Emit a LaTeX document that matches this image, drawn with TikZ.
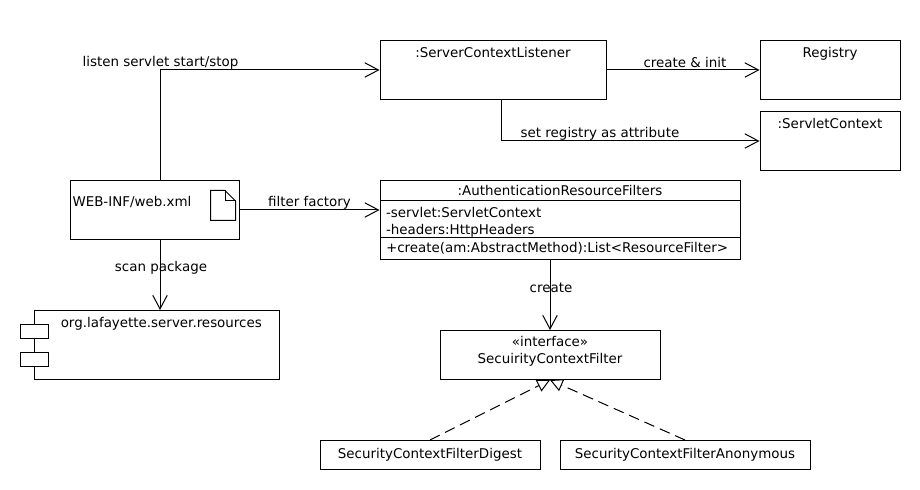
\documentclass[tikz,border=0pt]{standalone}
\usepackage{fontspec}
\setmainfont{DejaVu Sans}
\usepackage{tikz}
\usetikzlibrary{arrows.meta}

\begin{document}
\begin{tikzpicture}[
    % Plain UML box, size given per node
    boxU/.style={
        rectangle, draw=black, fill=white,
        line width=0.025cm, inner sep=0pt,
        font=\fontsize{9.55}{12}\selectfont
    },
    % Box whose text sits against the top edge
    boxT/.style={
        boxU, text height=0.42cm, text depth=#1
    },
    % Text beside a connector
    tagU/.style={
        inner sep=0pt, font=\fontsize{9.55}{12}\selectfont
    },
    % Open headed association
    flowU/.style={
        -{Straight Barb[length=0.34cm, width=0.36cm]},
        line width=0.025cm, draw=black
    },
    % Dashed realization
    realU/.style={
        -{Triangle[open, fill=white, length=0.32cm, width=0.32cm]},
        line width=0.025cm, draw=black,
        dash pattern=on 0.27cm off 0.15cm
    }
]
\useasboundingbox (0, 0.0125) rectangle (23, -12.2375);
% Top row
\node[boxT=1.055cm, minimum width=5.65cm, minimum height=1.475cm] (listener)
    at (12.325, -1.7375) {:ServerContextListener};
\node[boxT=1.055cm, minimum width=3.5cm, minimum height=1.475cm] (registry)
    at (20.75, -1.7375) {Registry};
\node[boxT=1.055cm, minimum width=3.5cm, minimum height=1.475cm] (context)
    at (20.75, -3.5125) {:ServletContext};
% Deployment descriptor with page icon
\node[boxT=0.83cm, text height=0.645cm, minimum width=4.225cm, minimum height=1.475cm,
      text width=4.1cm, align=left] (webxml)
    at (3.8625, -5.2375) {WEB-INF/web.xml};
\draw[line width=0.025cm, fill=white]
    (5.2625, -4.75) -- (5.625, -4.75) -- (5.8875, -5.0125)
    -- (5.8875, -5.5) -- (5.2625, -5.5) -- cycle;
\draw[line width=0.025cm] (5.625, -4.75) -- (5.625, -5.0125) -- (5.8875, -5.0125);
% Component with its two tabs
\node[boxT=1.305cm, minimum width=6.125cm, minimum height=1.725cm] (resources)
    at (3.9125, -8.6125) {\hspace*{0.24cm}org.lafayette.server.resources};
\node[boxU, minimum width=0.7cm, minimum height=0.35cm] (tabA)
    at (0.85, -8.275) {};
\node[boxU, minimum width=0.7cm, minimum height=0.35cm] (tabB)
    at (0.85, -8.975) {};
% Filter class, three compartments
\node[boxU, minimum width=9cm, minimum height=0.5cm] (authName)
    at (14, -4.75) {:AuthenticationResourceFilters};
\node[boxU, minimum width=9cm, minimum height=0.925cm,
      text width=8.7cm, align=left] (authFields)
    at (14, -5.4625) {\rule{0pt}{0.41cm}-servlet:ServletContext\\-headers:HttpHeaders};
\node[boxU, minimum width=9cm, minimum height=0.55cm,
      text width=8.7cm, align=left] (authOps)
    at (14, -6.2) {+create(am:AbstractMethod):List<ResourceFilter>};
% Interface and its two implementations
\node[boxU, minimum width=5.5cm, minimum height=1.225cm, align=center,
      text depth=0.26cm] (iface)
    at (13.75, -8.8625) {«interface»\\SecuirityContextFilter};
\node[boxU, minimum width=5.5cm, minimum height=0.725cm] (digest)
    at (10.75, -11.3625) {SecurityContextFilterDigest};
\node[boxU, minimum width=6.25cm, minimum height=0.725cm] (anon)
    at (17.125, -11.3625) {SecurityContextFilterAnonymous};
% Tap points off centre
\coordinate (webBus) at (4, -5.25);
\coordinate (listenerTap) at (12.525, -2.5);
% Associations
\draw[flowU] (webBus |- webxml.north) |- (listener.west);
\draw[flowU] (listener.east) -- (registry.west);
\draw[flowU] (listenerTap |- listener.south) |- (context.west);
\draw[flowU] (webxml.east) -- (webxml.east -| authFields.west);
\draw[flowU] (webBus |- webxml.south) -- (webBus |- resources.north);
\draw[flowU] (iface.north |- authOps.south) -- (iface.north);
% Realizations
\draw[realU] (digest.north) -- (iface.south);
\draw[realU] (anon.north) -- (iface.south);
% Connector texts
\node[tagU] (listenTag) at (4.0125, -1.55) {listen servlet start/stop};
\node[tagU] (createInitTag) at (17.125, -1.55) {create \& init};
\node[tagU] (setTag) at (15, -3.3375) {set registry as attribute};
\node[tagU] (filterTag) at (7.7375, -5.05) {filter factory};
\node[tagU] (scanTag) at (4.025, -6.675) {scan package};
\node[tagU] (createTag) at (13.775, -7.175) {create};
\end{tikzpicture}
\end{document}
